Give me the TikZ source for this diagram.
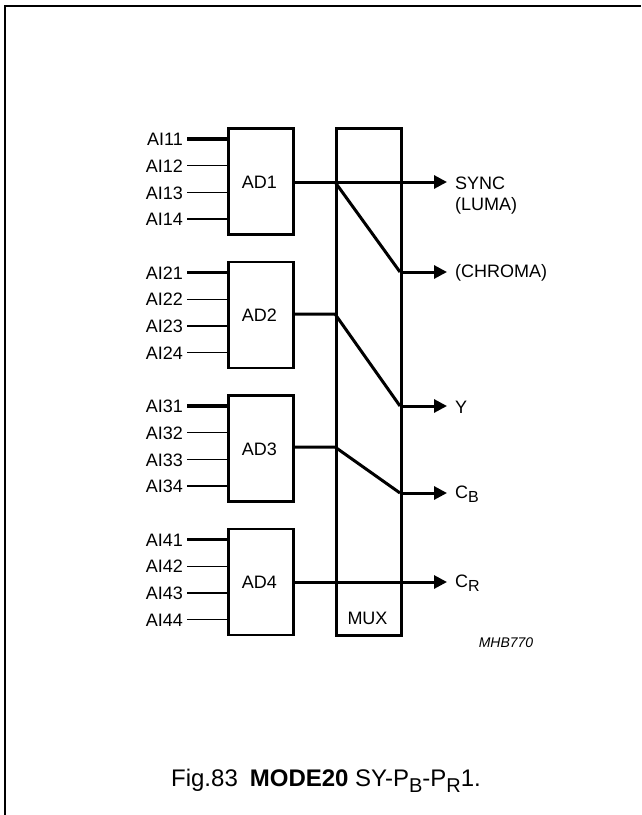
\documentclass[tikz,border=0pt]{standalone}
\usepackage{fontspec}
\setmainfont{Liberation Sans}
\usetikzlibrary{arrows.meta}
\begin{document}
\begin{tikzpicture}[x=1pt,y=-1pt,
  box/.style={draw,line width=2.8pt,minimum width=65pt,minimum height=106pt,inner sep=0pt},
  thin/.style={line width=1.3pt},
  thickin/.style={line width=3.2pt},
  sig/.style={line width=3pt},
  outarr/.style={line width=3pt,-{Triangle[length=13pt,width=13pt]}},
  txt/.style={font=\fontsize{18}{18}\selectfont},
  lbl/.style={txt,anchor=east,inner sep=0pt},
  olbl/.style={txt,anchor=west,inner sep=0pt}]
\useasboundingbox (0,0) rectangle (641,815);
\draw[line width=2pt] (4.5,815) -- (4.5,6) -- (641,6);
% MUX
\node[draw,line width=2.8pt,minimum width=65pt,minimum height=507pt,inner sep=0pt,anchor=north west] (mux) at (335,127) {};
\node[txt] (muxl) at (367.5,618) {MUX};
% AD boxes
\foreach \i/\t in {1/127,2/260.5,3/394,4/527.5}{
  \node[box,anchor=north west] (ad\i) at (227,\t) {};
  \node[txt] (adl\i) at (259.5,\t+55) {AD\i};
  \foreach \j in {1,2,3,4}{
    \coordinate (p\i\j) at (227,\t+12+26.7*\j-26.7);
    \node[lbl] (l\i\j) at (183,\t+12.5+26.7*\j-26.7) {AI\i\j};
  }
  \draw[thickin] (l\i1.east) ++(4,-0.5) -- (p\i1);
  \foreach \j in {2,3,4}{ \draw[thin] (l\i\j.east) ++(4,-0.5) -- (p\i\j); }
}
% output coords
\coordinate (a1) at (292,182); \coordinate (m1) at (335,182);
\coordinate (a2) at (292,314); \coordinate (m2) at (335,314);
\coordinate (a3) at (292,447); \coordinate (m3) at (335,447);
\coordinate (a4) at (292,582);
\coordinate (r1) at (400,182); \coordinate (r2) at (400,272);
\coordinate (r3) at (400,406); \coordinate (r4) at (400,493);
\coordinate (t1) at (447,182); \coordinate (t2) at (447,272);
\coordinate (t3) at (447,406); \coordinate (t4) at (447,493);
\coordinate (t5) at (447,582);
\node[olbl] (o1) at (455,183) {SYNC};
\node[olbl] (o1b) at (455,206) {(LUMA)};
\node[olbl] (o2) at (455,273) {(CHROMA)};
\node[olbl] (o3) at (455,407) {Y};
\node[olbl] (o4) at (455,494) {C\raisebox{-0.45ex}{\fontsize{16}{16}\selectfont B}};
\node[olbl] (o5) at (455,583) {C\raisebox{-0.45ex}{\fontsize{16}{16}\selectfont R}};
\draw[sig] (a1) -- (r1);
\draw[sig] (m1) -- (r2);
\draw[sig] (a2) -- (m2) -- (r3);
\draw[sig] (a3) -- (m3) -- (r4);
\draw[outarr] (r1) -- (t1);
\draw[outarr] (r2) -- (t2);
\draw[outarr] (r3) -- (t3);
\draw[outarr] (r4) -- (t4);
\draw[outarr] (a4) -- (t5);
\node[font=\fontsize{14}{14}\selectfont\itshape] (mhb) at (506,643) {MHB770};
\node[font=\fontsize{24}{24}\selectfont] (cap) at (326,781) {Fig.83\enspace\textbf{MODE20} SY-P\raisebox{-0.45ex}{\fontsize{20}{20}\selectfont B}-P\raisebox{-0.45ex}{\fontsize{20}{20}\selectfont R}1.};
\end{tikzpicture}
\end{document}
